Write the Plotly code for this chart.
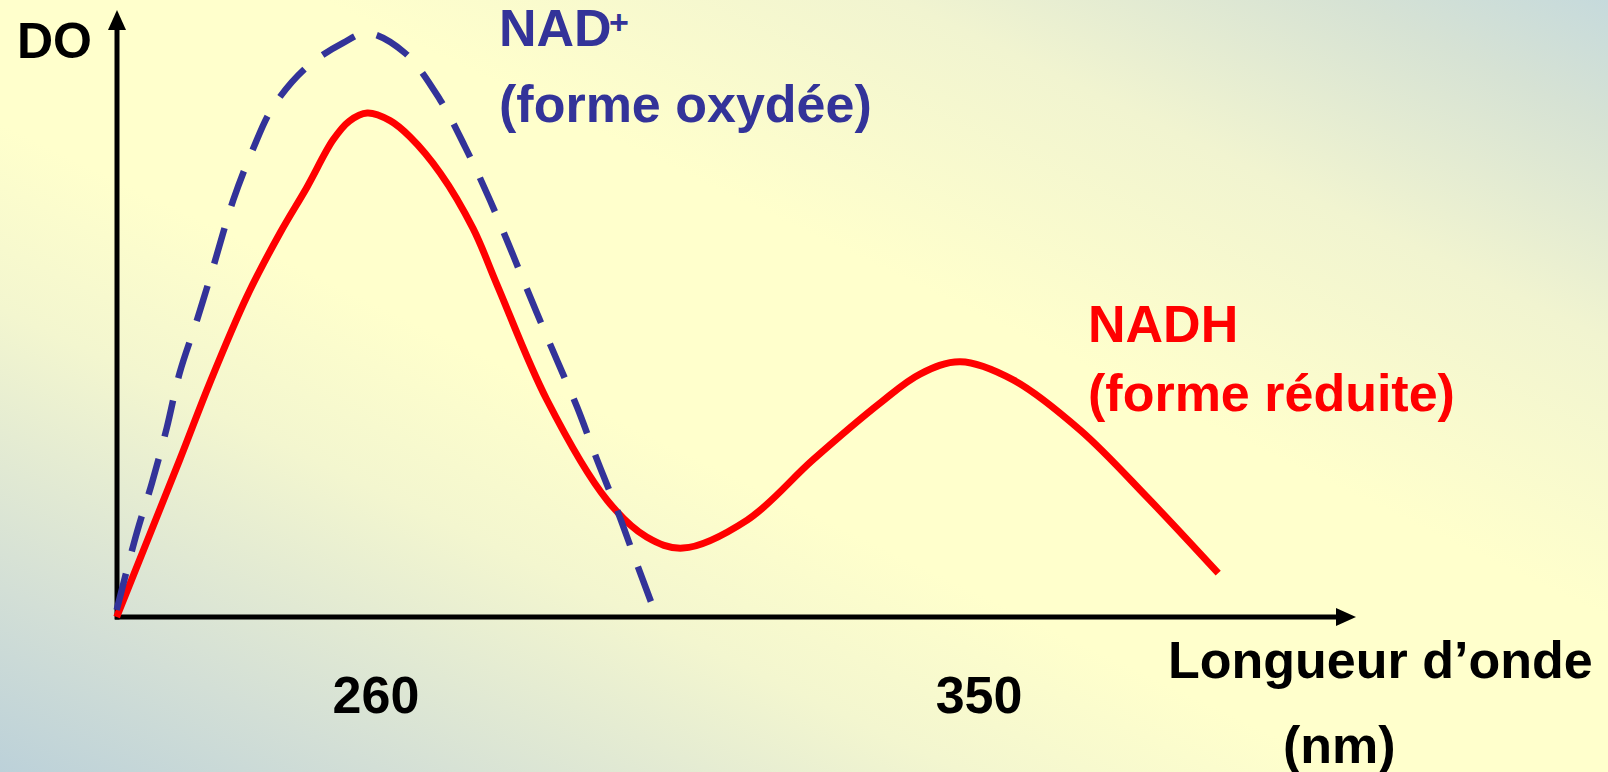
import base64
import plotly.graph_objects as go

# ---------------- data ----------------
# NADH (reduced form) absorption curve
wavelength_nadh = [221.3, 230.7, 235.2, 240.7, 245.7, 249.7, 253.6, 256.0, 258.7, 262.1,
                   265.1, 269.6, 274.5, 278.1, 285.5, 294.5, 300.4, 305.8, 315.4, 325.2,
                   335.2, 341.2, 347.2, 355.1, 365.1, 375.1, 385.7]
do_nadh = [0.0, 0.269, 0.401, 0.548, 0.658, 0.736, 0.817, 0.849, 0.863, 0.850,
           0.822, 0.760, 0.665, 0.568, 0.372, 0.200, 0.137, 0.118, 0.166, 0.269,
           0.366, 0.416, 0.437, 0.406, 0.320, 0.205, 0.075]

# NAD+ (oxidised form) absorption curve
wavelength_nad = [221.3, 224.3, 226.6, 228.8, 230.7, 233.3, 235.7, 238.7, 241.6, 244.6,
                  249.7, 255.1, 258.7, 264.3, 269.6, 273.3, 277.0, 284.0, 287.0, 290.0,
                  293.0, 296.0, 298.9, 301.9]
do_nad = [0.012, 0.144, 0.231, 0.325, 0.418, 0.509, 0.599, 0.714, 0.800, 0.873,
          0.942, 0.983, 1.0, 0.966, 0.885, 0.805, 0.714, 0.521, 0.440, 0.360,
          0.269, 0.183, 0.092, 0.0]

tick_values = [260, 350]
tick_labels = ["260", "350"]

# ---------------- layout geometry ----------------
W, H = 1608, 772
ML, MR, MT, MB = 100, 230, 5, 140
PW, PH = W - ML - MR, H - MT - MB
X_RANGE = [218.81, 409.55]
Y_RANGE = [-0.02568, 1.04795]


def px(x):
    return (x - ML) / PW


def py(y):
    return (H - MB - y) / PH


FONT = "Liberation Sans, Arial, sans-serif"
RED = "#FF0000"
BLUE = "#333399"

# background gradient as an svg image
svg = f'''<svg xmlns="http://www.w3.org/2000/svg" width="{W}" height="{H}" viewBox="0 0 {W} {H}" preserveAspectRatio="none">
<defs><linearGradient id="g" x1="0" y1="1" x2="1" y2="0">
<stop offset="0" stop-color="#BCD1D9"/>
<stop offset="0.12" stop-color="#D3DFD6"/>
<stop offset="0.30" stop-color="#F3F6CF"/>
<stop offset="0.42" stop-color="#FFFFCC"/>
<stop offset="0.60" stop-color="#FFFFCC"/>
<stop offset="0.78" stop-color="#F1F4D0"/>
<stop offset="0.92" stop-color="#D6E2D4"/>
<stop offset="1" stop-color="#C6DADC"/>
</linearGradient></defs>
<rect x="0" y="0" width="{W}" height="{H}" fill="url(#g)"/></svg>'''
svg_uri = "data:image/svg+xml;base64," + base64.b64encode(svg.encode()).decode()

fig = go.Figure()
fig.add_trace(go.Scatter(x=wavelength_nadh, y=do_nadh, mode="lines",
                         line=dict(color=RED, width=7, shape="spline", smoothing=1.0),
                         name="NADH", showlegend=False, hoverinfo="skip"))
fig.add_trace(go.Scatter(x=wavelength_nad, y=do_nad, mode="lines",
                         line=dict(color=BLUE, width=6.5, shape="spline", smoothing=1.0,
                                   dash="37px,23px"),
                         name="NAD+", showlegend=False, hoverinfo="skip"))

# axes drawn as arrows
ax_col = "black"
shapes = [
    dict(type="line", xref="paper", yref="paper", x0=px(115), y0=py(617), x1=px(1340), y1=py(617),
         line=dict(color=ax_col, width=5), layer="below"),
    dict(type="path", xref="paper", yref="paper",
         path=f"M {px(1336)},{py(608)} L {px(1356)},{py(617)} L {px(1336)},{py(626)} Z",
         fillcolor=ax_col, line=dict(color=ax_col, width=0), layer="below"),
    dict(type="line", xref="paper", yref="paper", x0=px(117), y0=py(619.5), x1=px(117), y1=py(26),
         line=dict(color=ax_col, width=5), layer="below"),
    dict(type="path", xref="paper", yref="paper",
         path=f"M {px(108)},{py(30)} L {px(117)},{py(10)} L {px(126)},{py(30)} Z",
         fillcolor=ax_col, line=dict(color=ax_col, width=0), layer="below"),
]


def ann(text, x, y, size, color, xanchor="center"):
    return dict(text=text, x=px(x), y=py(y), xref="paper", yref="paper", showarrow=False,
                xanchor=xanchor, yanchor="middle",
                font=dict(family=FONT, size=size, color=color, weight="bold"))


annotations = [
    ann("DO", 54, 41, 50, "black"),
    ann("NAD", 497, 28, 52, BLUE, "left"),
    ann("+", 619, 22, 34, BLUE),
    ann("(forme oxydée)", 497, 104, 52, BLUE, "left"),
    ann("NADH", 1086, 324, 52, RED, "left"),
    ann("(forme réduite)", 1086, 393, 52, RED, "left"),
    ann("Longueur d’onde", 1380, 660, 52, "black"),
    ann("(nm)", 1339, 745, 52, "black"),
]

fig.update_layout(
    template="none",
    width=W, height=H,
    margin=dict(l=ML, r=MR, t=MT, b=MB, pad=0),
    paper_bgcolor="#FFFFCC",
    plot_bgcolor="rgba(0,0,0,0)",
    showlegend=False,
    shapes=shapes,
    annotations=annotations,
    images=[dict(source=svg_uri, xref="paper", yref="paper",
                 x=-ML / PW, y=1 + MT / PH, sizex=W / PW, sizey=H / PH,
                 xanchor="left", yanchor="top", sizing="stretch", layer="below")],
    xaxis=dict(range=X_RANGE, showgrid=False, zeroline=False, showline=False,
               tickmode="array", tickvals=tick_values, ticktext=tick_labels,
               ticks="outside", ticklen=18, tickcolor="rgba(0,0,0,0)",
               tickfont=dict(family=FONT, size=52, color="black", weight="bold"),
               automargin=False, fixedrange=True),
    yaxis=dict(range=Y_RANGE, showgrid=False, zeroline=False, showline=False,
               showticklabels=False, ticks="", automargin=False, fixedrange=True),
)

fig.write_html("out.html", config={"displayModeBar": False},
               post_script="document.body.style.margin='0';document.body.style.overflow='hidden';")
